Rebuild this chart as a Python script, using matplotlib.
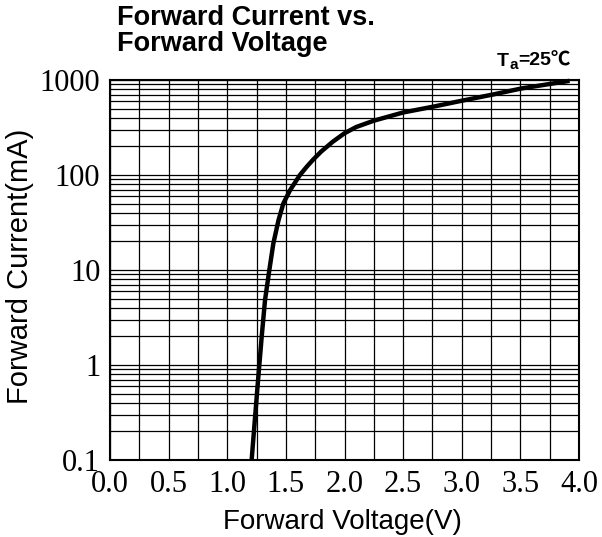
import matplotlib
matplotlib.use("Agg")
import matplotlib.pyplot as plt
from matplotlib.ticker import LogLocator, FixedLocator, NullFormatter

# --- data ---
voltage = [1.208, 1.237, 1.265, 1.294, 1.322, 1.359, 1.393, 1.436, 1.478,
           1.535, 1.62, 1.68, 1.73, 1.80, 1.90, 2.00, 2.10, 2.25, 2.50,
           2.76, 3.00, 3.27, 3.51, 3.92]
current = [0.1, 0.28, 0.75, 2.0, 4.8, 10, 19, 33, 50,
           69, 100, 123, 144, 176, 224, 275, 320, 373, 455,
           525, 605, 705, 815, 980]

x_ticks = [0.0, 0.5, 1.0, 1.5, 2.0, 2.5, 3.0, 3.5, 4.0]
x_tick_labels = ["0.0", "0.5", "1.0", "1.5", "2.0", "2.5", "3.0", "3.5", "4.0"]
y_ticks = [0.1, 1, 10, 100, 1000]
y_tick_labels = ["0.1", "1", "10", "100", "1000"]

SERIF = "Liberation Serif"
SANS = ["Liberation Sans", "Noto Sans CJK SC"]

fig = plt.figure(figsize=(6.02, 5.37), dpi=100)
ax = fig.add_axes([110 / 602, 1 - 460 / 537, 469 / 602, 380 / 537])

ax.set_yscale("log")
ax.set_xlim(0, 4)
ax.set_ylim(0.1, 1000)

# grid: every 0.25 V, and 1..9 per decade
ax.xaxis.set_major_locator(FixedLocator(x_ticks))
ax.xaxis.set_minor_locator(FixedLocator([v / 4 for v in range(17)]))
ax.yaxis.set_major_locator(FixedLocator(y_ticks))
ax.yaxis.set_minor_locator(LogLocator(base=10, subs=range(2, 10), numticks=20))
ax.yaxis.set_minor_formatter(NullFormatter())
ax.grid(True, which="both", color="black", linewidth=0.9)
ax.set_axisbelow(True)

ax.set_xticklabels(x_tick_labels, fontfamily=SERIF, fontsize=22)
ax.set_yticklabels(y_tick_labels, fontfamily=SERIF, fontsize=22)
ax.tick_params(which="both", length=0)
ax.tick_params(axis="x", pad=7)
ax.tick_params(axis="y", pad=7)

for s in ax.spines.values():
    s.set_linewidth(1.5)
    s.set_color("black")

ax.plot(voltage, current, color="black", linewidth=3.2, solid_capstyle="butt",
        solid_joinstyle="round", clip_on=False)

ax.set_xlabel("Forward Voltage(V)", fontfamily=SANS, fontsize=20)
ax.set_ylabel("Forward Current(mA)", fontfamily=SANS, fontsize=21)
ax.xaxis.set_label_coords(0.495, -0.13)
ax.yaxis.set_label_coords(-0.162, 0.51)

fig.text(117 / 602, 1 - 5 / 537, "Forward Current vs.\nForward Voltage",
         fontfamily=SANS, fontweight="bold", fontsize=19.5, ha="left", va="top",
         linespacing=1.0)

# "Ta=25℃" with subscript a
t1 = fig.text(497 / 602, 1 - 66 / 537, "T", fontfamily=SANS, fontweight="bold",
              fontsize=14, ha="left", va="baseline")
t2 = ax.annotate("a", xy=(1, 0), xycoords=t1, xytext=(0, -1.5),
                 textcoords="offset points", fontfamily=SANS, fontweight="bold",
                 fontsize=11, ha="left", va="bottom")
ax.annotate("=25℃", xy=(1, 0), xycoords=t1, xytext=(7, 0),
            textcoords="offset points", fontfamily=SANS, fontweight="bold",
            fontsize=14, ha="left", va="bottom")

fig.savefig("out.png", dpi=100)
